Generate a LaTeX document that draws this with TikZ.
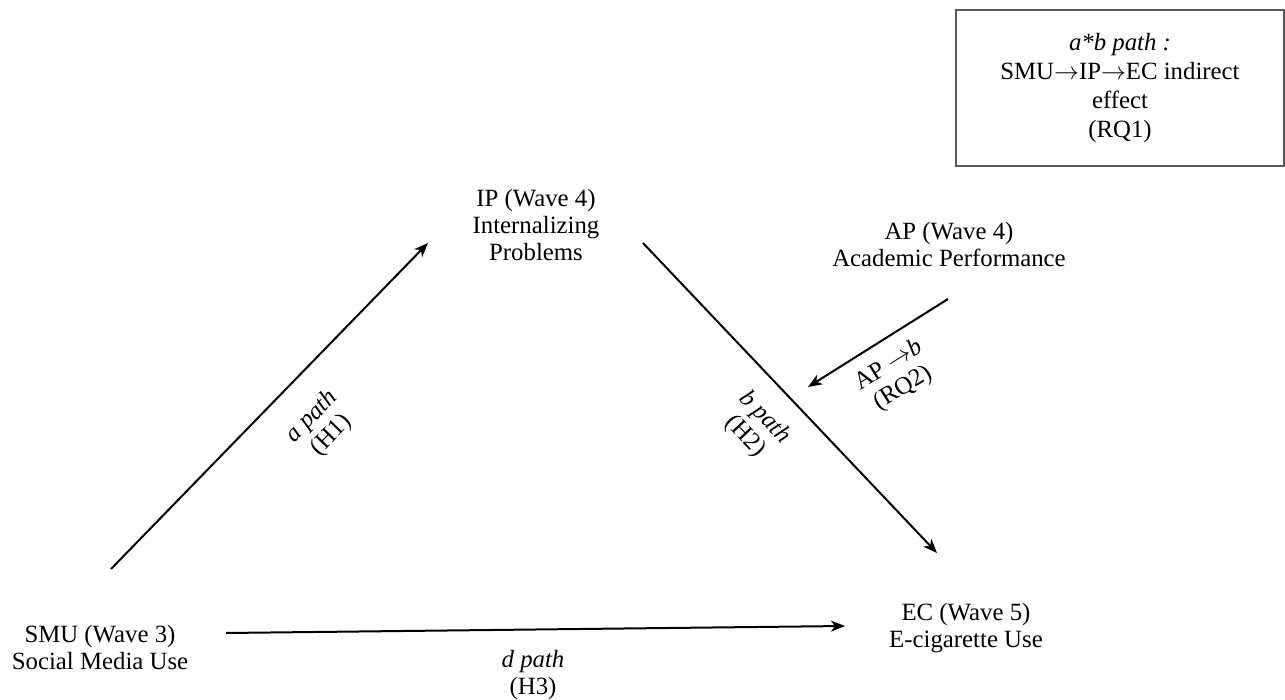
\documentclass[tikz,border=0pt]{standalone}
\usepackage{fontspec}
\setmainfont{Liberation Serif}
\usetikzlibrary{arrows.meta}

\begin{document}
\begin{tikzpicture}[x=1pt,y=-1pt,
    every node/.style={font=\fontsize{24.8}{27}\selectfont, align=center, inner sep=0pt},
    pathline/.style={line width=2pt, -{Stealth[length=14pt,width=11pt,inset=4pt]}},
    effectbox/.style={draw=black!65, line width=1.3pt, minimum width=328pt, minimum height=156pt,
      font=\fontsize{24.8}{29}\selectfont}]
  \useasboundingbox (0,0) rectangle (1285,700);

  % the four variables
  \node (smu) at (100,648) {SMU (Wave 3)\\Social Media Use};
  \node (ip) at (536,225) {IP (Wave 4)\\Internalizing\\Problems};
  \node (ap) at (949,245) {AP (Wave 4)\\Academic Performance};
  \node (ec) at (966,628) {EC (Wave 5)\\E-cigarette Use};

  % indirect effect box
  \node[effectbox] (indirect) at (1120,88)
    {\textit{a*b path :}\\SMU$\rightarrow$IP$\rightarrow$EC indirect\\effect\\(RQ1)};

  % arrow ends
  \coordinate (a from) at (111,569);
  \coordinate (a to) at (428,243);
  \coordinate (b from) at (643,243);
  \coordinate (b to) at (937,553);
  \coordinate (d from) at (226,633);
  \coordinate (d to) at (845,626);
  \coordinate (ap from) at (948,299);
  \coordinate (ap to) at (808,387);

  \draw[pathline] (a from) -- (a to);
  \draw[pathline] (b from) -- (b to);
  \draw[pathline] (d from) -- (d to);
  \draw[pathline] (ap from) -- (ap to);

  % path labels
  \node[rotate=46] (a label) at (322,426) {\textit{a path}\\(H1)};
  \node[rotate=-46.5] (b label) at (755,427) {\textit{b path}\\(H2)};
  \node[rotate=32] (ap label) at (896,377) {AP $\rightarrow$\textit{b}\\(RQ2)};
  \node (d label) at (533,675) {\textit{d path}\\(H3)};
\end{tikzpicture}
\end{document}
